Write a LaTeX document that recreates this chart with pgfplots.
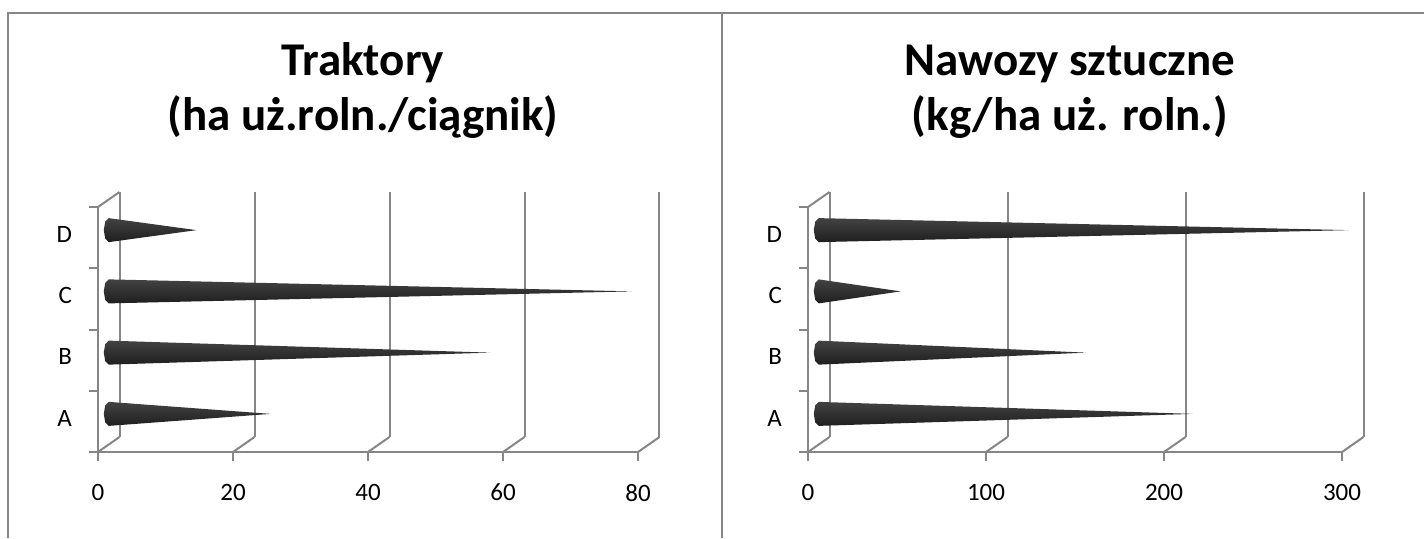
\documentclass[border=0pt]{standalone}
\usepackage{fontspec}
\setmainfont{Carlito}
\usepackage{pgfplots}
\pgfplotsset{compat=1.18}

\definecolor{ax}{RGB}{134,134,134}
\newcommand{\tf}{\fontsize{12.5}{15}\selectfont}

\pgfplotsset{
  panel/.style={scale only axis, anchor=south west, height=122.5pt,
    ymin=0.5, ymax=4.5, clip=false},
  front/.style={panel,
    axis x line*=bottom, axis y line*=left,
    axis line style={ax, line width=1pt, -},
    tick style={ax, line width=1pt},
    tick align=outside, major tick length=4.5pt,
    ytick={0.5,1.5,2.5,3.5,4.5},
    yticklabels={{\tf A},{\tf B},{\tf C},{\tf D}},
    y tick label as interval,
    typeset ticklabels with strut,
    xticklabel={\tf\pgfmathprintnumber[assume math mode=true]{\tick}},
    ticklabel style={text=black},
    xticklabel style={yshift=-8pt},
    yticklabel style={xshift=-5pt}},
  back/.style={panel,
    axis line style={draw=none}, tick style={draw=none},
    xticklabels={}, ytick=\empty, xmajorgrids,
    grid style={ax, line width=1pt}},
  mid/.style={panel, hide axis},
  cone/.style={draw=none, top color=black!74, middle color=black!60,
    bottom color=black!88},
}
\tikzset{ttl/.style={anchor=base, font=\fontsize{23.5}{28}\selectfont\bfseries}}

\begin{document}
\begin{tikzpicture}
\useasboundingbox (0,0) rectangle (712pt,269pt);
% frame
\draw[ax, line width=1pt] (4pt,0) -- (4pt,262.5pt) -- (712pt,262.5pt);
\draw[ax, line width=1pt] (361pt,0) -- (361pt,262.5pt);

% titles
\node[ttl] at (181.5pt,231.5pt) {Traktory};
\node[ttl] at (181.5pt,204pt) {(ha uż.roln./ciągnik)};
\node[ttl] at (535pt,231.5pt) {Nawozy sztuczne};
\node[ttl] at (535pt,204pt) {(kg/ha uż. roln.)};

% ---- left panel: Traktory ----
\begin{axis}[back, at={(59.75pt,50.5pt)}, width=270pt, xmin=0, xmax=80, xtick={0,20,...,80}]
\end{axis}
\begin{axis}[front, at={(49pt,43pt)}, width=270pt, xmin=0, xmax=80, xtick={0,20,...,80}]
  \pgfplotsinvokeforeach{0,20,40,60,80}{
    \draw[ax, line width=1pt] (axis cs:#1,0.5) -- ++(10.75pt,7.5pt);
  }
  \draw[ax, line width=1pt] (axis cs:0,4.5) -- ++(10.75pt,7.5pt);
\end{axis}
\begin{axis}[mid, at={(54.375pt,46.75pt)}, width=270pt, xmin=0, xmax=80]
  % A
  \addplot[cone] coordinates {(0,0.804) (24,1) (0,1.196) (-0.52,1.139) (-0.74,1) (-0.52,0.861)} --cycle;
  % B
  \addplot[cone] coordinates {(0,1.804) (56.5,2) (0,2.196) (-0.52,2.139) (-0.74,2) (-0.52,1.861)} --cycle;
  % C
  \addplot[cone] coordinates {(0,2.804) (77.5,3) (0,3.196) (-0.52,3.139) (-0.74,3) (-0.52,2.861)} --cycle;
  % D
  \addplot[cone] coordinates {(0,3.804) (13,4) (0,4.196) (-0.52,4.139) (-0.74,4) (-0.52,3.861)} --cycle;
\end{axis}

% ---- right panel: Nawozy sztuczne ----
\begin{axis}[back, at={(414.75pt,50.5pt)}, width=267pt, xmin=0, xmax=300, xtick={0,100,200,300}]
\end{axis}
\begin{axis}[front, at={(404pt,43pt)}, width=267pt, xmin=0, xmax=300, xtick={0,100,200,300}]
  \pgfplotsinvokeforeach{0,100,200,300}{
    \draw[ax, line width=1pt] (axis cs:#1,0.5) -- ++(10.75pt,7.5pt);
  }
  \draw[ax, line width=1pt] (axis cs:0,4.5) -- ++(10.75pt,7.5pt);
\end{axis}
\begin{axis}[mid, at={(409.375pt,46.75pt)}, width=267pt, xmin=0, xmax=300]
  % A
  \addplot[cone] coordinates {(0,0.804) (210,1) (0,1.196) (-2,1.139) (-2.8,1) (-2,0.861)} --cycle;
  % B
  \addplot[cone] coordinates {(0,1.804) (150,2) (0,2.196) (-2,2.139) (-2.8,2) (-2,1.861)} --cycle;
  % C
  \addplot[cone] coordinates {(0,2.804) (46,3) (0,3.196) (-2,3.139) (-2.8,3) (-2,2.861)} --cycle;
  % D
  \addplot[cone] coordinates {(0,3.804) (298,4) (0,4.196) (-2,4.139) (-2.8,4) (-2,3.861)} --cycle;
\end{axis}
\end{tikzpicture}
\end{document}
